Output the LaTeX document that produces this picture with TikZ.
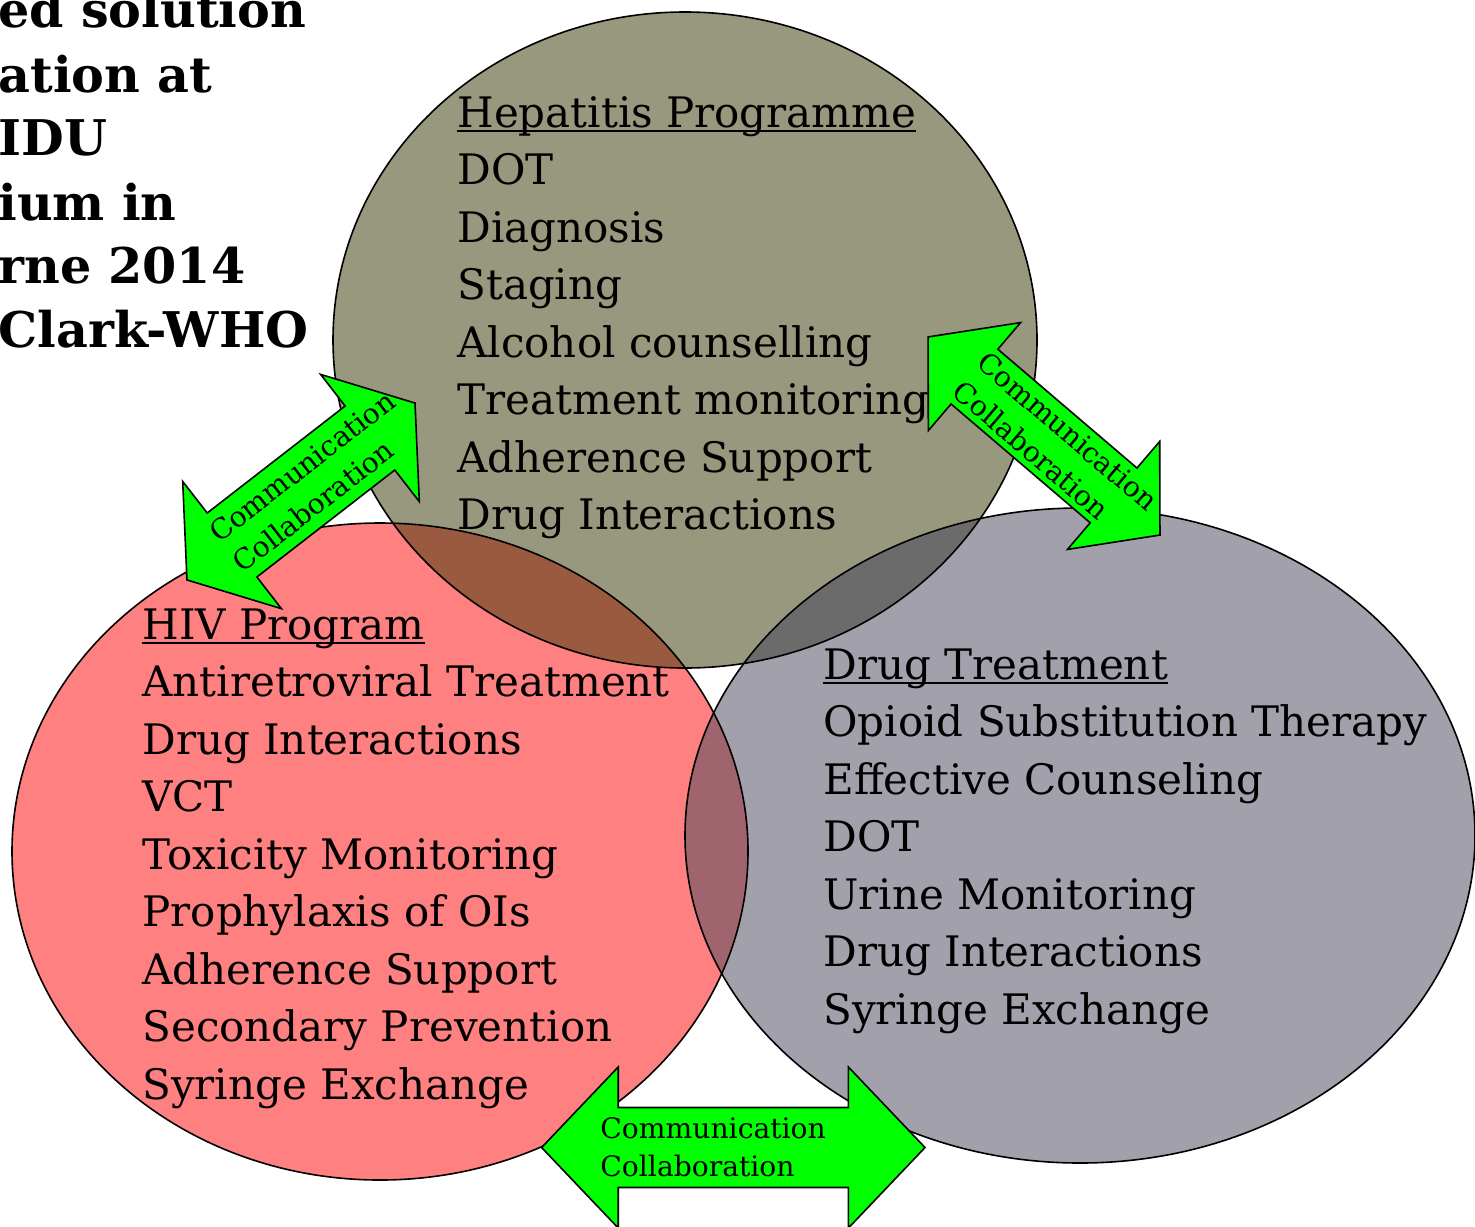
\documentclass[tikz,border=0pt]{standalone}
\usepackage{fontspec}
\setmainfont{DejaVu Serif}
\definecolor{hepfill}{HTML}{98987E}
\definecolor{hivfill}{HTML}{FF8080}
\definecolor{drugfill}{HTML}{A2A1AB}
\definecolor{hephiv}{HTML}{9A5A40}
\definecolor{hepdrug}{HTML}{6B6B6B}
\definecolor{hivdrug}{HTML}{A0646F}
\definecolor{linkgreen}{HTML}{00FF00}
% underline sitting just below the baseline, crossing descenders
\newcommand\lowrule[1]{\setbox0\hbox{#1}\rlap{\rule[-2.6pt]{\wd0}{0.9pt}}\box0}
\begin{document}
\begin{tikzpicture}[x=0.5pt,y=-0.5pt,
  outline/.style={draw=black,line width=0.8pt},
  listtext/.style={anchor=base west,inner sep=0,font=\fontsize{21}{25}\selectfont},
  titletext/.style={anchor=base west,inner sep=0,font=\fontsize{24.6}{29}\selectfont\bfseries},
  linkarrow/.style={draw=black,line width=0.8pt,fill=linkgreen,line join=miter},
  linktext/.style={anchor=west,inner sep=0,align=left,font=\fontsize{14.1}{19}\selectfont}]
\useasboundingbox (0,0) rectangle (1475,1226);
\clip (0,0) rectangle (1475,1226);

% the three programme areas
\def\hepshape{(685,340) ellipse [x radius=352, y radius=328]}
\def\hivshape{(380,851.5) ellipse [x radius=368, y radius=328.5]}
\def\drugshape{(1080,835.5) ellipse [x radius=395, y radius=327.5]}
\fill[hepfill] \hepshape;
\fill[hivfill] \hivshape;
\fill[drugfill] \drugshape;
\begin{scope}
  \clip \hepshape;
  \fill[hephiv] \hivshape;
  \fill[hepdrug] \drugshape;
\end{scope}
\begin{scope}
  \clip \hivshape;
  \fill[hivdrug] \drugshape;
\end{scope}
\draw[outline] \hepshape;
\draw[outline] \hivshape;
\draw[outline] \drugshape;

% title lines
\node[titletext] (ttl1) at (-2,27) {ed solution};
\node[titletext] (ttl2) at (-2,92) {ation at};
\node[titletext] (ttl3) at (-2,155) {IDU};
\node[titletext] (ttl4) at (-2,220) {ium in};
\node[titletext] (ttl5) at (-2,283) {rne 2014};
\node[titletext] (ttl6) at (-2,347) {Clark-WHO};

% Hepatitis list
\node[listtext] (hep0) at (457,127) {\lowrule{Hepatitis Programme}};
\foreach \t [count=\i] in {DOT,Diagnosis,Staging,Alcohol counselling,Treatment monitoring,Adherence Support,Drug Interactions}
  \node[listtext] (hep\i) at (457,{127+57.5*\i}) {\t};

% HIV list
\node[listtext] (hiv0) at (142,639) {\lowrule{HIV Program}};
\foreach \t [count=\i] in {Antiretroviral Treatment,Drug Interactions,VCT,Toxicity Monitoring,Prophylaxis of OIs,Adherence Support,Secondary Prevention,Syringe Exchange}
  \node[listtext] (hiv\i) at (142,{639+57.5*\i}) {\t};

% Drug treatment list
\node[listtext] (drg0) at (823,679) {\lowrule{Drug Treatment}};
\foreach \t [count=\i] in {Opioid Substitution Therapy,Effective Counseling,DOT,Urine Monitoring,Drug Interactions,Syringe Exchange}
  \node[listtext] (drg\i) at (823,{679+57.5*\i}) {\t};

% double-headed links: half length L, head length h, head half width H, shaft half width s
\newcommand\linkshape[4]{(-#1,0) -- (-#1+#2,-#3) -- (-#1+#2,-#4) -- (#1-#2,-#4) -- (#1-#2,-#3) -- (#1,0)
  -- (#1-#2,#3) -- (#1-#2,#4) -- (-#1+#2,#4) -- (-#1+#2,#3) -- cycle}

\begin{scope}[shift={(301,491.5)},rotate=37.8]
  \draw[linkarrow] \linkshape{144.3}{57}{80.5}{40.5};
  \node[linktext,rotate=37.8] (lnk1) at (-97,0) {Communication\\Collaboration};
\end{scope}

\begin{scope}[shift={(1044,436)},rotate=-40.5]
  \draw[linkarrow] \linkshape{152.5}{61}{71}{36};
  \node[linktext,rotate=-40.5] (lnk2) at (-98,0) {Communication\\Collaboration};
\end{scope}

\begin{scope}[shift={(733.3,1147.5)}]
  \draw[linkarrow] \linkshape{191.7}{76.6}{80.5}{40};
  \node[linktext] (lnk3) at (-133.3,0) {Communication\\Collaboration};
\end{scope}
\end{tikzpicture}
\end{document}
